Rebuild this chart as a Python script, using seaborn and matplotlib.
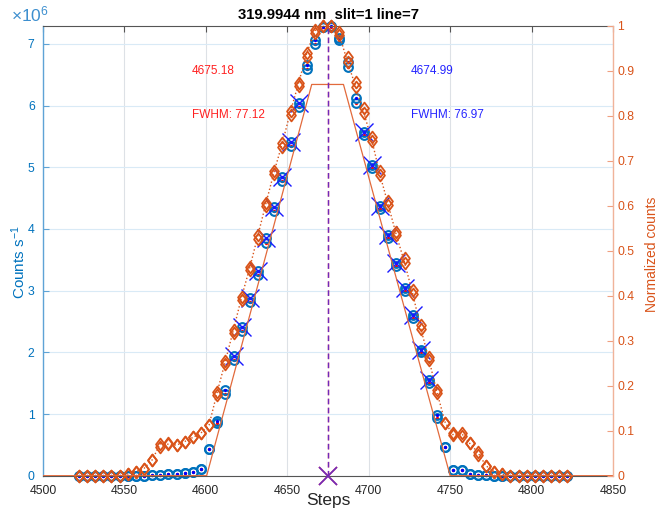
import numpy as np
import pandas as pd
import matplotlib
matplotlib.use('Agg')
import matplotlib.pyplot as plt
import seaborn as sns
from matplotlib.ticker import FuncFormatter
from matplotlib.path import Path

sns.set_style('white')
plt.rcParams['font.family'] = ['Liberation Sans', 'DejaVu Sans']
plt.rcParams['mathtext.fontset'] = 'custom'
plt.rcParams['mathtext.rm'] = 'Liberation Sans'
plt.rcParams['mathtext.it'] = 'Liberation Sans:italic'

# ---------------- data ----------------
steps = [4522, 4527, 4532, 4537, 4542, 4547, 4552, 4557, 4562, 4567,
         4572, 4577, 4582, 4587, 4592, 4597, 4602, 4607, 4612, 4617,
         4622, 4627, 4632, 4637, 4642, 4647, 4652, 4657, 4662, 4667,
         4672, 4677, 4682, 4687, 4692, 4697, 4702, 4707, 4712, 4717,
         4722, 4727, 4732, 4737, 4742, 4747, 4752, 4757, 4762, 4767,
         4772, 4777, 4782, 4787, 4792, 4797, 4802, 4807, 4812, 4817, 4822]

# counts (millions) scan A (blue dots) and scan B (red dots)
counts_a = [0, 0, 0, 0, 0, 0, 0, 0, 0, 0.005,
            0.01, 0.02, 0.028, 0.04, 0.065, 0.104, 0.433, 0.89, 1.39, 1.94,
            2.415, 2.875, 3.323, 3.848, 4.36, 4.846, 5.41, 6.035, 6.656, 7.07,
            7.28, 7.29, 7.10, 6.71, 6.12, 5.575, 5.036, 4.37, 3.90, 3.44,
            3.04, 2.60, 2.04, 1.55, 0.98, 0.46, 0.092, 0.085, 0.03, 0.015,
            0.01, 0, 0, 0, 0, 0, 0, 0, 0, 0, 0]
counts_b = [0, 0, 0, 0, 0, 0, 0, 0, 0, 0.005,
            0.01, 0.02, 0.028, 0.04, 0.065, 0.104, 0.433, 0.85, 1.33, 1.88,
            2.35, 2.81, 3.25, 3.78, 4.29, 4.78, 5.35, 5.98, 6.60, 7.00,
            7.27, 7.28, 7.06, 6.63, 6.04, 5.52, 4.98, 4.33, 3.86, 3.40,
            3.00, 2.56, 2.00, 1.51, 0.94, 0.46, 0.092, 0.085, 0.03, 0.015,
            0.01, 0, 0, 0, 0, 0, 0, 0, 0, 0, 0]

# normalized counts (two overlapping scans)
norm_a = [0, 0, 0, 0, 0, 0, 0.004, 0.009, 0.016, 0.035,
          0.064, 0.073, 0.068, 0.076, 0.085, 0.095, 0.113, 0.18, 0.248, 0.318,
          0.391, 0.457, 0.526, 0.60, 0.67, 0.732, 0.802, 0.867, 0.932, 0.985,
          1.0, 1.0, 0.987, 0.932, 0.876, 0.817, 0.754, 0.677, 0.611, 0.543,
          0.483, 0.413, 0.335, 0.265, 0.19, 0.118, 0.094, 0.088, 0.072, 0.047,
          0.022, 0.009, 0.003, 0, 0, 0, 0, 0, 0, 0, 0]
norm_b = [0, 0, 0, 0, 0, 0, 0.004, 0.009, 0.016, 0.035,
          0.071, 0.070, 0.068, 0.076, 0.085, 0.095, 0.113, 0.186, 0.255, 0.325,
          0.398, 0.463, 0.535, 0.607, 0.677, 0.74, 0.81, 0.874, 0.94, 0.99,
          1.0, 1.0, 0.98, 0.92, 0.865, 0.807, 0.745, 0.668, 0.602, 0.535,
          0.474, 0.405, 0.327, 0.258, 0.184, 0.118, 0.090, 0.094, 0.072, 0.052,
          0.022, 0.009, 0.003, 0, 0, 0, 0, 0, 0, 0, 0]

# fit range (steps marked with X) on each flank
fit_left = (4617, 4657)
fit_right = (4697, 4737)

# trapezoid fit line (normalized)
trap_steps = [4500, 4600.5, 4665, 4684.5, 4750, 4850]
trap_vals = [0, 0, 0.87, 0.87, 0, 0]

centers = [4675.18, 4674.99]
fwhms = [77.12, 76.97]

title = '319.9944 nm  slit=1 line=7'
xticks = [4500, 4550, 4600, 4650, 4700, 4750, 4800, 4850]
yticks_left = [0, 1, 2, 3, 4, 5, 6, 7]
yticks_right = [0, 0.1, 0.2, 0.3, 0.4, 0.5, 0.6, 0.7, 0.8, 0.9, 1]

df = pd.DataFrame({'step': steps,
                   'a': np.array(counts_a) * 1e6,
                   'b': np.array(counts_b) * 1e6,
                   'na': norm_a, 'nb': norm_b})
trap = pd.DataFrame({'step': trap_steps, 'v': trap_vals})

BLUE = '#0072BD'
ORANGE = '#D95319'
DARK = '#262626'

W, H = 658, 520
fig = plt.figure(figsize=(W / 100, H / 100), dpi=100)
x0, x1, y0, y1 = 43, 613, 26, 475.7
ax = fig.add_axes([x0 / W, 1 - y1 / H, (x1 - x0) / W, (y1 - y0) / H])
ax2 = ax.twinx()

# --------------- left axis: counts ---------------
common = dict(estimator=None, sort=False, legend=False)
mk = dict(linestyle='none', clip_on=False)
for col_name in ['b', 'a']:
    dot = '#ff0000' if col_name == 'b' else '#0000ff'
    sns.lineplot(data=df, x='step', y=col_name, ax=ax, marker='o',
                 markersize=6.3, markerfacecolor='none', markeredgecolor=BLUE,
                 markeredgewidth=1.5, color=BLUE, **mk, **common)
    sns.lineplot(data=df, x='step', y=col_name, ax=ax, marker='o',
                 markersize=2.4, markerfacecolor=dot, markeredgecolor=dot,
                 markeredgewidth=0, color=dot, **mk, **common)
for lo, hi in (fit_left, fit_right):
    sub = df[(df.step >= lo) & (df.step <= hi)]
    sns.lineplot(data=sub, x='step', y='a', ax=ax, marker='x',
                 markersize=13, markeredgecolor='#1a1aff', markeredgewidth=1.0,
                 color='#1a1aff', **mk, **common)

ax.set_xlim(4500, 4850)
ax.set_ylim(0, 7.29e6)
ax.set_xticks(xticks)
ax.set_yticks([v * 1e6 for v in yticks_left])
ax.yaxis.set_major_formatter(FuncFormatter(lambda v, p: f'{v / 1e6:g}'))

# --------------- right axis: normalized ---------------
diamond = Path([(0, 1), (0.75, 0), (0, -1), (-0.75, 0), (0, 1)],
               [Path.MOVETO, Path.LINETO, Path.LINETO, Path.LINETO, Path.CLOSEPOLY])
sns.lineplot(data=df, x='step', y='nb', ax=ax2, linestyle=':', linewidth=1.0,
             color=ORANGE, **common)
for col_name in ['nb', 'na']:
    sns.lineplot(data=df, x='step', y=col_name, ax=ax2, marker=diamond,
                 markersize=8.5, markerfacecolor='none', markeredgecolor=ORANGE,
                 markeredgewidth=1.3, color=ORANGE, **mk, **common)
sns.lineplot(data=trap, x='step', y='v', ax=ax2, color='#E26A3C', linewidth=0.9,
             **common)

# centroid markers
for c, col, a in zip(centers, ['#ff2020', '#3030ff'], [1.0, 0.7]):
    ax2.axvline(c, color=col, linestyle='--', linewidth=1.0, alpha=a,
                dashes=(4, 2.5), zorder=5)
    cdf = pd.DataFrame({'step': [c], 'v': [0]})
    sns.lineplot(data=cdf, x='step', y='v', ax=ax2, marker='x',
                 markersize=13, markeredgecolor=col, markeredgewidth=1.2,
                 color=col, alpha=a, zorder=6, **mk, **common)

ax2.set_ylim(0, 1)
ax2.set_yticks(yticks_right)
ax2.yaxis.set_major_formatter(FuncFormatter(lambda v, p: f'{v:g}'))

# --------------- text ---------------
ax.text(4591.5, 6.56e6, f'{centers[0]:.2f}', color='#ff2020', fontsize=8.5, va='center')
ax.text(4591.5, 5.85e6, f'FWHM: {fwhms[0]:.2f}', color='#ff2020', fontsize=8.5, va='center')
ax.text(4726, 6.56e6, f'{centers[1]:.2f}', color='#2424ff', fontsize=8.5, va='center')
ax.text(4726, 5.85e6, f'FWHM: {fwhms[1]:.2f}', color='#2424ff', fontsize=8.5, va='center')

ax.set_title(title, fontsize=10.7, fontweight='bold', color='black', pad=5)
fig.text(11 / W, 1 - 14 / H, r'$\times10^{6}$', color='#3d8fcf', fontsize=12.5, va='center')

ax.set_xlabel('Steps', fontsize=12.5, color=DARK)
ax.xaxis.set_label_coords(0.5, -0.038)
ax.set_ylabel(r'Counts s$^{-1}$', fontsize=11, color=BLUE)
ax.yaxis.set_label_coords(-0.026, 0.475)
ax2.set_ylabel('Normalized counts', fontsize=10, color=ORANGE, rotation=90)
ax2.yaxis.set_label_coords(1.057, 0.492)

# --------------- axes styling ---------------
ax.xaxis.grid(True, color='#dde1e6', linewidth=0.8)
ax.yaxis.grid(True, color='#d9eaf6', linewidth=0.8)
ax.set_axisbelow(True)
ax2.grid(False)

for s in ['top', 'bottom']:
    ax.spines[s].set_color('#555555')
    ax.spines[s].set_linewidth(0.8)
ax.spines['left'].set_color('#5ea3d6')
ax.spines['left'].set_linewidth(1.0)
ax.spines['right'].set_visible(False)
ax2.spines['left'].set_visible(False)
ax2.spines['top'].set_visible(False)
ax2.spines['bottom'].set_visible(False)
ax2.spines['right'].set_color('#f0b39a')
ax2.spines['right'].set_linewidth(1.0)

ax.tick_params(axis='x', direction='in', length=4, width=0.8, top=True,
               color='#555555', labelcolor=DARK, labelsize=8.8, pad=7)
ax.tick_params(axis='y', direction='in', length=4, width=0.8,
               color='#5ea3d6', labelcolor=BLUE, labelsize=8.8, pad=6)
ax2.tick_params(axis='y', direction='in', length=4, width=0.8,
                color='#f0a080', labelcolor=ORANGE, labelsize=8.8, pad=3)

fig.savefig('out.png', dpi=100)
